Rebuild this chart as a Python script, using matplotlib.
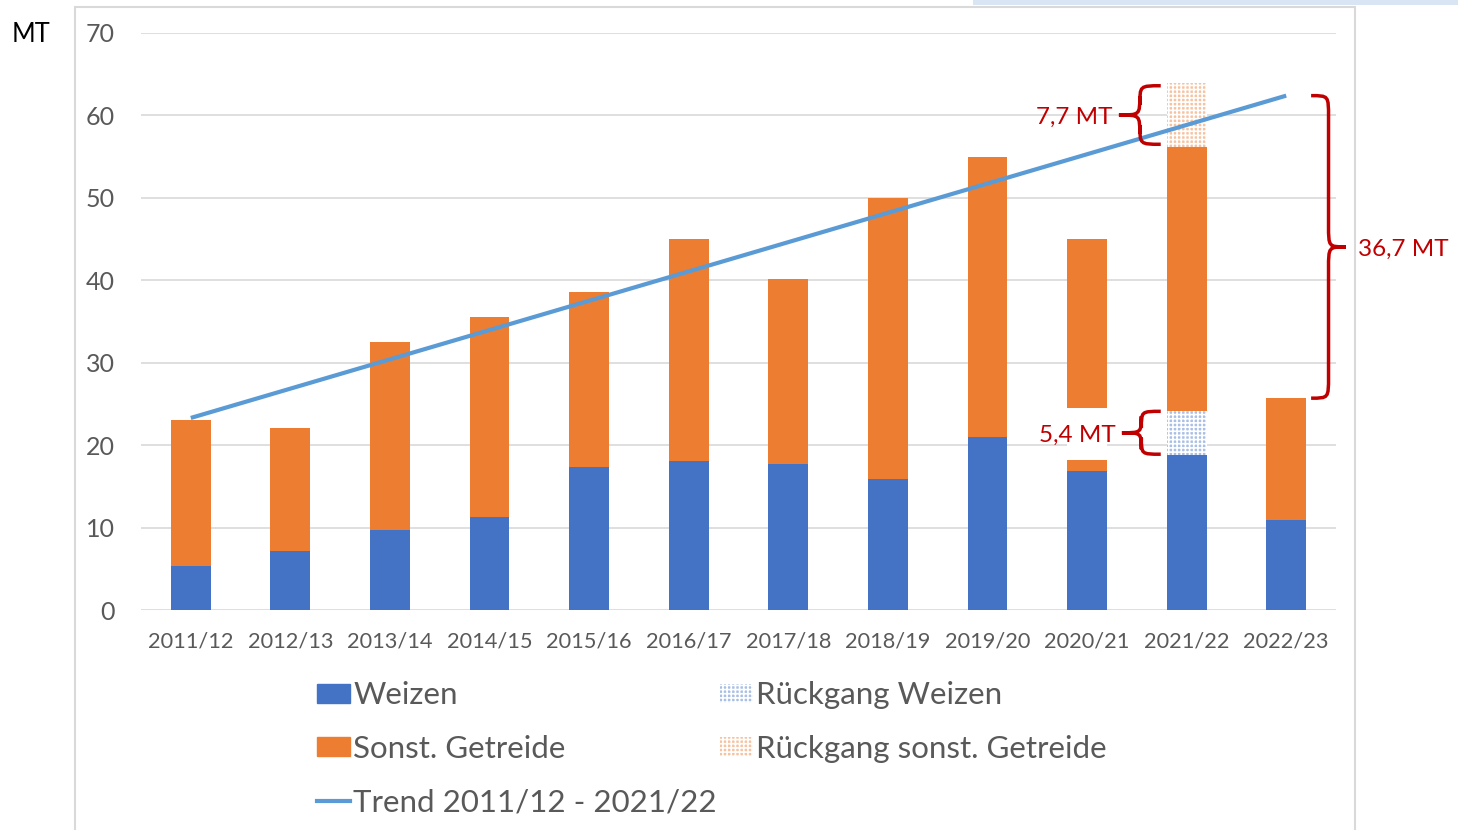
import matplotlib
matplotlib.use("Agg")
from matplotlib import pyplot as plt
from matplotlib.patches import Rectangle, PathPatch
from matplotlib.path import Path
from matplotlib.lines import Line2D
import numpy as np

plt.rcParams['font.family'] = ['Lato', 'DejaVu Sans']
plt.rcParams['hatch.linewidth'] = 1.2

# Data (MT)
jahre = ["2011/12", "2012/13", "2013/14", "2014/15", "2015/16", "2016/17",
         "2017/18", "2018/19", "2019/20", "2020/21", "2021/22", "2022/23"]
weizen = [5.3, 7.2, 9.7, 11.3, 17.3, 18.1, 17.7, 15.9, 21.0, 16.9, 18.8, 10.9]
rueck_weizen = [0, 0, 0, 0, 0, 0, 0, 0, 0, 0, 5.4, 0]
sonst = [17.8, 14.9, 22.8, 24.2, 21.3, 26.9, 22.5, 34.1, 34.0, 28.1, 32.0, 14.8]
rueck_sonst = [0, 0, 0, 0, 0, 0, 0, 0, 0, 0, 7.7, 0]
luecke_2020 = [18.2, 24.5]          # white gap in the 2020/21 bar
trend_x = [0, 11]
trend_y = [23.3, 62.4]

BLAU = "#4472C4"
ORANGE = "#ED7D31"
TREND = "#5B9BD5"
ROT = "#C00000"
GRAU = "#595959"

fig = plt.figure(figsize=(14.58, 8.30), dpi=100)
ax = fig.add_axes([141 / 1458, 1 - 610 / 830, (1336 - 141) / 1458, (610 - 33) / 830])

x = np.arange(len(jahre))
w = 0.4
weizen = np.array(weizen)
rueck_weizen = np.array(rueck_weizen)
sonst = np.array(sonst)
rueck_sonst = np.array(rueck_sonst)

ax.bar(x, weizen, w, color=BLAU, zorder=2)
ax.bar(x, rueck_weizen, w, bottom=weizen, facecolor="#A9BFE6", edgecolor="white",
       hatch="++++", linewidth=0, zorder=2)
ax.bar(x, sonst, w, bottom=weizen + rueck_weizen, color=ORANGE, zorder=2)
ax.bar(x, rueck_sonst, w, bottom=weizen + rueck_weizen + sonst, facecolor="#F7C2A0",
       edgecolor="white", hatch="++++", linewidth=0, zorder=2)
# white gap in 2020/21
ax.bar([9], [luecke_2020[1] - luecke_2020[0]], w * 1.02, bottom=luecke_2020[0],
       color="white", zorder=3)

ax.plot(trend_x, trend_y, color=TREND, lw=3, zorder=4, solid_capstyle="butt")

ax.set_xlim(-0.5, len(jahre) - 0.5)
ax.set_ylim(0, 70)
ax.set_yticks(range(0, 71, 10))
ax.set_xticks(x)
ax.set_xticklabels(jahre)
ax.yaxis.grid(True, color="#D9D9D9", lw=1.2)
ax.set_axisbelow(True)
for s in ax.spines.values():
    s.set_visible(False)
ax.tick_params(axis="both", length=0, colors=GRAU)
ax.tick_params(axis="x", labelsize=15.7, pad=15.5)
ax.tick_params(axis="y", labelsize=18, pad=19)
for lab in ax.get_yticklabels():
    lab.set_horizontalalignment("right")


def klammer(ax, x_ende, x_spitze, y0, y1, d):
    xm = (x_ende + x_spitze) / 2
    ym = (y0 + y1) / 2
    verts = [(x_ende, y1), (xm, y1), (xm, y1), (xm, y1 - d),
             (xm, ym + d),
             (xm, ym), (xm, ym), (x_spitze, ym),
             (xm, ym), (xm, ym), (xm, ym - d),
             (xm, y0 + d),
             (xm, y0), (xm, y0), (x_ende, y0)]
    codes = [Path.MOVETO, Path.CURVE4, Path.CURVE4, Path.CURVE4,
             Path.LINETO,
             Path.CURVE4, Path.CURVE4, Path.CURVE4,
             Path.CURVE4, Path.CURVE4, Path.CURVE4,
             Path.LINETO,
             Path.CURVE4, Path.CURVE4, Path.CURVE4]
    ax.add_patch(PathPatch(Path(verts, codes), fill=False, edgecolor=ROT, lw=2.5,
                           clip_on=False, zorder=5))


# 7,7 MT brace
o_unten = weizen[10] + rueck_weizen[10] + sonst[10]
o_oben = o_unten + rueck_sonst[10]
klammer(ax, 9.74, 9.32, o_unten + 0.3, o_oben - 0.3, 2.3)
ax.text(9.26, (o_unten + o_oben) / 2 - 0.3, "7,7 MT", color=ROT, fontsize=17.5,
        ha="right", va="center")

# 5,4 MT brace
b_unten = weizen[10]
b_oben = b_unten + rueck_weizen[10]
klammer(ax, 9.74, 9.35, b_unten + 0.1, b_oben - 0.1, 2.0)
ax.text(9.29, (b_unten + b_oben) / 2 - 0.3, "5,4 MT", color=ROT, fontsize=17.5,
        ha="right", va="center")

# 36,7 MT brace
k_oben = trend_y[1]
k_unten = weizen[11] + sonst[11]
klammer(ax, 11.25, 11.6, k_unten, k_oben, 2.6)
ax.text(11.72, (k_unten + k_oben) / 2 - 0.3, "36,7 MT", color=ROT, fontsize=17.5,
        ha="left", va="center")

# legend
handles = [
    Rectangle((0, 0), 1, 1, color=BLAU),
    Rectangle((0, 0), 1, 1, color=ORANGE),
    Line2D([0], [0], color=TREND, lw=3),
    Rectangle((0, 0), 1, 1, facecolor="#A9BFE6", edgecolor="white", hatch="++++", lw=0),
    Rectangle((0, 0), 1, 1, facecolor="#F7C2A0", edgecolor="white", hatch="++++", lw=0),
]
labels = ["Weizen", "Sonst. Getreide", "Trend 2011/12 - 2021/22",
          "Rückgang Weizen", "Rückgang sonst. Getreide"]
leg = fig.legend(handles, labels, loc="upper left", bbox_to_anchor=(0.2174, 0.179),
                 ncol=2, frameon=False, fontsize=22.5, handlelength=1.06,
                 handleheight=0.58, handletextpad=0.1, labelspacing=0.81,
                 columnspacing=0.1, borderaxespad=0, borderpad=0)
for t in leg.get_texts():
    t.set_color(GRAU)

# chart frame and header band
fig.patches.append(Rectangle((75 / 1458, -0.1), (1355 - 75) / 1458, 1.1 - 7 / 830,
                             transform=fig.transFigure, fill=False,
                             edgecolor="#D9D9D9", lw=1.5))
fig.patches.append(Rectangle((973 / 1458, 1 - 5 / 830), 1, 5 / 830,
                             transform=fig.transFigure, color="#DAE5F4", lw=0))

fig.text(12 / 1458, 1 - 35 / 830, "MT", fontsize=18.4, color="black", va="center")

fig.savefig("out.png", dpi=100)
